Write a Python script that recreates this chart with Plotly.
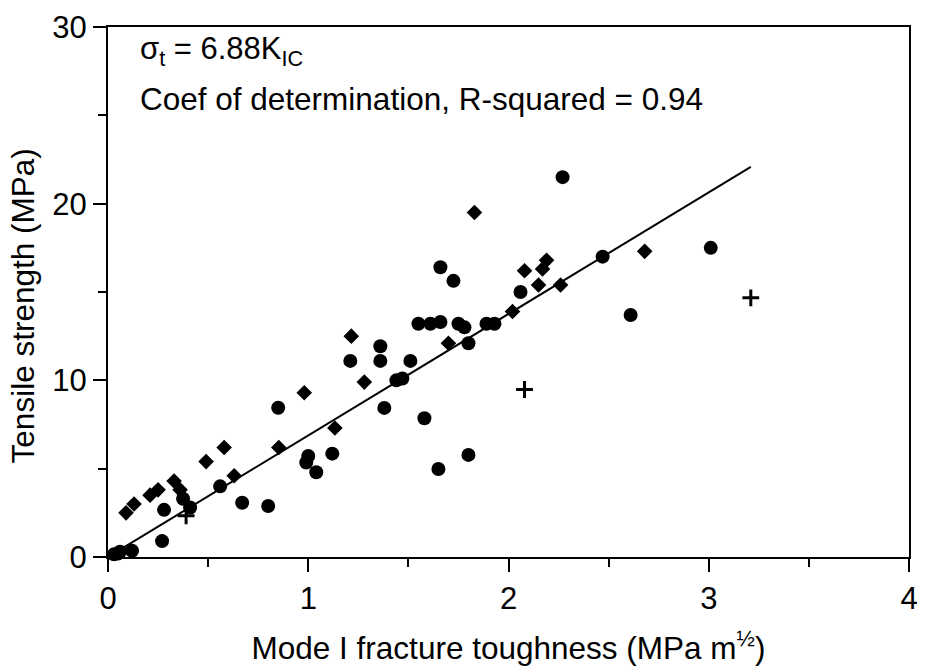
import plotly.graph_objects as go

# Circles
circle_x = [0.03, 0.05, 0.06, 0.12, 0.27, 0.28, 0.375, 0.41, 0.56, 0.67, 0.80, 0.85,
            0.99, 1.00, 1.04, 1.12, 1.21, 1.36, 1.36, 1.38, 1.44, 1.47, 1.51, 1.55,
            1.61, 1.66, 1.58, 1.65, 1.66, 1.725, 1.75, 1.78, 1.80, 1.80, 1.89, 1.93,
            2.06, 2.27, 2.47, 2.61, 3.01]
circle_y = [0.15, 0.2, 0.3, 0.35, 0.9, 2.67, 3.3, 2.8, 4.0, 3.07, 2.89, 8.45,
            5.35, 5.72, 4.8, 5.85, 11.1, 11.93, 11.1, 8.44, 10.0, 10.1, 11.1, 13.2,
            13.2, 13.3, 7.85, 4.98, 16.4, 15.63, 13.2, 13.0, 12.1, 5.78, 13.2, 13.2,
            15.0, 21.5, 17.0, 13.7, 17.5]

# Diamonds
diamond_x = [0.09, 0.13, 0.21, 0.25, 0.33, 0.36, 0.49, 0.58, 0.63, 0.853, 0.98, 1.133,
             1.215, 1.28, 1.70, 1.83, 2.02, 2.08, 2.15, 2.17, 2.19, 2.26, 2.68]
diamond_y = [2.5, 3.0, 3.5, 3.8, 4.3, 3.8, 5.4, 6.2, 4.6, 6.2, 9.3, 7.3,
             12.5, 9.9, 12.1, 19.5, 13.9, 16.2, 15.4, 16.3, 16.8, 15.4, 17.3]

# Crosses
cross_x = [0.39, 2.08, 3.21]
cross_y = [2.33, 9.48, 14.67]

# Fit
fit_slope = 6.88
fit_x = [0.0, 3.21]
fit_y = [fit_slope * v for v in fit_x]

x_ticks = [0, 1, 2, 3, 4]
y_ticks = [0, 10, 20, 30]

FONT = "Liberation Sans, Arial, Helvetica, sans-serif"

fig = go.Figure()
fig.add_trace(go.Scatter(x=fit_x, y=fit_y, mode="lines",
                         line=dict(color="black", width=2), showlegend=False))
fig.add_trace(go.Scatter(x=circle_x, y=circle_y, mode="markers", cliponaxis=False,
                         marker=dict(symbol="circle", size=14, color="black"),
                         showlegend=False))
fig.add_trace(go.Scatter(x=diamond_x, y=diamond_y, mode="markers", cliponaxis=False,
                         marker=dict(symbol="diamond", size=12, color="black"),
                         showlegend=False))
fig.add_trace(go.Scatter(x=cross_x, y=cross_y, mode="markers", cliponaxis=False,
                         marker=dict(symbol="cross-thin", size=12,
                                     line=dict(color="black", width=3)),
                         showlegend=False))

fig.add_annotation(x=0.148, y=28.65, xref="x", yref="y", xanchor="left", yanchor="middle",
                   text="σ<sub>t</sub> = 6.88K<sub>IC</sub>", showarrow=False,
                   font=dict(size=31, color="black", family=FONT))
fig.add_annotation(x=0.148, y=25.95, xref="x", yref="y", xanchor="left", yanchor="middle",
                   text="Coef of determination, R-squared = 0.94", showarrow=False,
                   font=dict(size=31.5, color="black", family=FONT))
fig.add_annotation(x=-0.106, y=0.473, xref="paper", yref="paper",
                   xanchor="center", yanchor="middle", textangle=-90,
                   text="Tensile strength (MPa)", showarrow=False,
                   font=dict(size=31.5, color="black", family=FONT))

fig.update_layout(
    width=928, height=670,
    margin=dict(l=108, r=10, t=17, b=112),
    paper_bgcolor="white", plot_bgcolor="white",
    font=dict(family=FONT, size=31, color="black"),
    xaxis=dict(range=[0, 4], tickvals=x_ticks, ticktext=[str(v) for v in x_ticks],
               showgrid=False, zeroline=False, showline=True, linecolor="black",
               linewidth=2, mirror=True, ticks="outside", ticklen=13, tickwidth=2,
               tickcolor="black", tickfont=dict(size=31), ticklabeloverflow="allow",
               minor=dict(dtick=0.5, ticks="outside", ticklen=8, tickwidth=2,
                          tickcolor="black", showgrid=False),
               title=dict(text="Mode I fracture toughness (MPa m<sup>½</sup>)",
                          font=dict(size=31.5), standoff=22)),
    yaxis=dict(range=[0, 30], tickvals=y_ticks, ticktext=[str(v) for v in y_ticks],
               showgrid=False, zeroline=False, showline=True, linecolor="black",
               linewidth=2, mirror=True, ticks="outside", ticklen=13, tickwidth=2,
               tickcolor="black", tickfont=dict(size=31), ticklabeloverflow="allow",
               minor=dict(dtick=5, ticks="outside", ticklen=8, tickwidth=2,
                          tickcolor="black", showgrid=False)),
)

fig.write_html("out.html")
